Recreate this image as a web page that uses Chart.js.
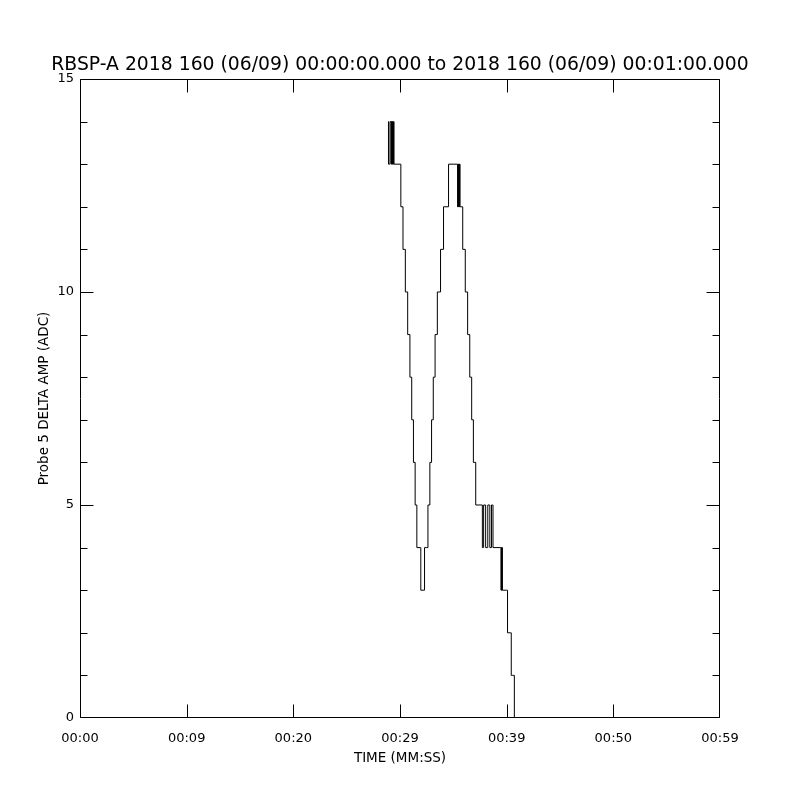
<!DOCTYPE html>
<html>
<head>
<meta charset="utf-8">
<script src="https://cdn.jsdelivr.net/npm/chart.js@4/dist/chart.umd.min.js"></script>
<style>
  html, body { margin: 0; padding: 0; background: #fff; }
  #wrap { width: 800px; height: 800px; }
</style>
</head>
<body>
<div id="wrap"><canvas id="chart" width="800" height="800"></canvas></div>
<script>
// seconds after 00:00:00 and probe 5 delta amplitude (ADC counts)
const timeSec = [
  28.88, 28.92, 29.02, 29.06, 29.11, 29.16, 29.20, 29.25, 29.30, 29.34, 29.39, 29.44,
  30.03, 30.08, 30.28, 30.50, 30.72, 30.93, 31.10, 31.26, 31.42, 31.58, 31.92,
  31.95, 32.27, 32.30, 32.51, 32.62, 32.80, 32.96, 33.12, 33.29, 33.50, 33.80,
  34.08, 34.52, 34.55, 35.37, 35.40, 35.43, 35.47, 35.50, 35.54, 35.58, 35.63,
  35.84, 35.88, 36.12, 36.34, 36.54, 36.72, 36.88, 37.10, 37.69, 37.72, 37.81,
  37.84, 38.00, 38.03, 38.20, 38.23, 38.39, 38.42, 38.55, 38.58, 38.69, 38.72,
  39.44, 39.47, 39.50, 39.53, 39.56, 39.60, 39.98, 40.08, 40.36, 40.43, 40.57, 40.72
];
const ampAdc = [
  14, 13, 13, 14, 14, 13, 14, 13, 14, 13, 14, 13,
  13, 12, 11, 10, 9, 8, 7, 6, 5, 4, 4,
  3, 3, 4, 4, 5, 6, 7, 8, 9, 10, 11,
  12, 12, 13, 13, 12, 13, 12, 13, 12, 13, 12,
  12, 11, 10, 9, 8, 7, 6, 5, 5, 4, 4,
  5, 5, 4, 4, 5, 5, 4, 4, 5, 5, 4,
  4, 3, 4, 3, 4, 3, 3, 2, 2, 1, 1, 0
];

const xTickValues = [0, 10, 20, 30, 40, 50, 60];
const xTickLabels = ['00:00', '00:09', '00:20', '00:29', '00:39', '00:50', '00:59'];
const yMajorStep = 5;
const yMinorStep = 1;

const titleText = 'RBSP-A 2018 160 (06/09) 00:00:00.000 to 2018 160 (06/09) 00:01:00.000';

Chart.defaults.font.family = 'DejaVu Sans';
Chart.defaults.color = '#000';

// IDL style box with ticks pointing inwards
const frameTicks = {
  id: 'frameTicks',
  afterDraw(chart) {
    const { ctx, chartArea: a, scales: { x, y } } = chart;
    const L = Math.round(a.left) + 0.5, R = Math.round(a.right) - 0.5;
    const T = Math.round(a.top) + 0.5, B = Math.round(a.bottom) - 0.5;
    const clampX = (p) => Math.min(Math.max(p, L), R);
    const clampY = (p) => Math.min(Math.max(p, T), B);
    ctx.save();
    ctx.strokeStyle = '#000';
    ctx.lineWidth = 1;
    ctx.beginPath();
    ctx.rect(L, T, R - L, B - T);
    for (let v of xTickValues) {
      let px = clampX(Math.round(x.getPixelForValue(v)) + 0.5);
      ctx.moveTo(px, B); ctx.lineTo(px, B - 13);
      ctx.moveTo(px, T); ctx.lineTo(px, T + 13);
    }
    for (let v = y.min; v <= y.max; v += yMinorStep) {
      let py = clampY(Math.round(y.getPixelForValue(v)) + 0.5);
      let len = (v % yMajorStep === 0) ? 13 : 7;
      ctx.moveTo(L, py); ctx.lineTo(L + len, py);
      ctx.moveTo(R, py); ctx.lineTo(R - len, py);
    }
    ctx.stroke();
    ctx.restore();
  }
};

let points = timeSec.map((t, i) => ({ x: t, y: ampAdc[i] }));

const config = {
  type: 'line',
  data: {
    datasets: [{
      data: points,
      borderColor: '#000',
      borderWidth: 1,
      pointRadius: 0,
      stepped: true,
      fill: false,
    }]
  },
  options: {
    animation: false,
    responsive: false,
    layout: { padding: 0 },
    plugins: {
      legend: { display: false },
      tooltip: { enabled: false },
      title: {
        display: true,
        text: titleText,
        color: '#000',
        font: { size: 18.8, weight: 'normal' },
        padding: { top: 54, bottom: 2.4 }
      }
    },
    scales: {
      x: {
        type: 'linear',
        min: 0,
        max: 60,
        afterBuildTicks: (s) => { s.ticks = xTickValues.map(v => ({ value: v })); },
        afterFit: (s) => { s.height = 82; },
        grid: { display: false, drawTicks: false },
        border: { display: false },
        ticks: {
          autoSkip: false,
          maxRotation: 0,
          padding: 12.5,
          font: { size: 13 },
          callback: (v, i) => xTickLabels[i]
        },
        title: {
          display: true,
          text: 'TIME (MM:SS)',
          font: { size: 13.5 },
          padding: { top: 0, bottom: 33 }
        }
      },
      y: {
        min: 0,
        max: 15,
        afterFit: (s) => { s.width = 80; },
        grid: { display: false, drawTicks: false },
        border: { display: false },
        ticks: {
          stepSize: yMajorStep,
          padding: 6,
          font: { size: 13 }
        },
        title: {
          display: true,
          text: 'Probe 5 DELTA AMP (ADC)',
          font: { size: 13.5 },
          padding: { top: 36, bottom: 0 }
        }
      },
      // empty right-hand axis keeps the plot box symmetric
      yRight: {
        position: 'right',
        min: 0,
        max: 15,
        afterFit: (s) => { s.width = 80; },
        grid: { display: false, drawTicks: false },
        border: { display: false },
        ticks: { display: false }
      }
    }
  },
  plugins: [frameTicks]
};

let chart = new Chart(document.getElementById('chart'), config);
</script>
</body>
</html>
